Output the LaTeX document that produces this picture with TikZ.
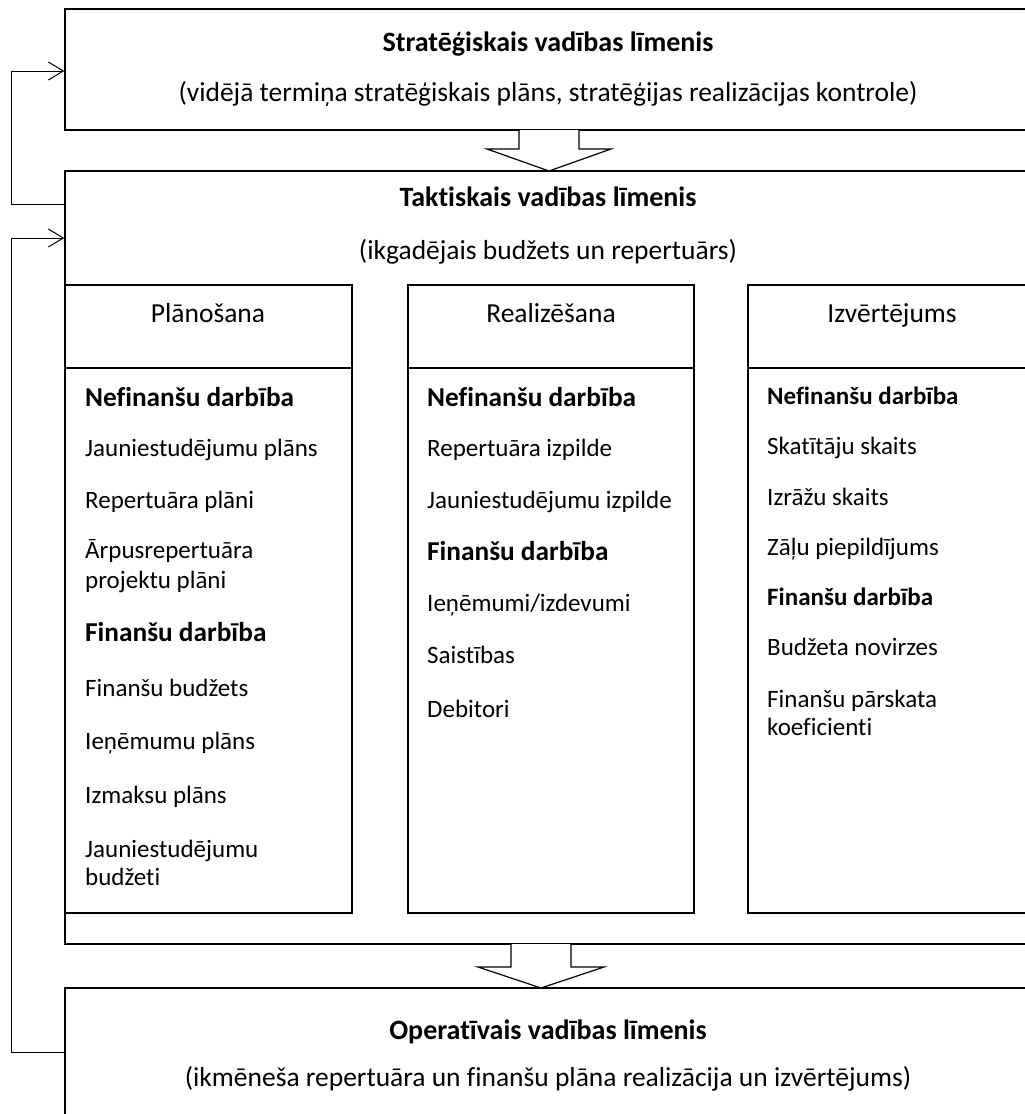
\documentclass[tikz,border=0pt]{standalone}
\usepackage{fontspec}
\setmainfont{Carlito}[Ligatures=NoCommon]
\usetikzlibrary{arrows.meta,fit}
\begin{document}
\begin{tikzpicture}[x=1pt,y=-1pt,
  box/.style={draw, line width=1.4pt, inner sep=0pt},
  fb/.style={line width=1pt},
  fbarrow/.style={fb, -{Straight Barb[length=15pt,width=18pt,line width=1pt]}},
  blk/.style={draw, fill=white, line width=1.2pt, line join=miter},
  t/.style={font=\fontsize{27.5}{33}\selectfont, inner sep=0pt, anchor=base},
  tb/.style={t, font=\fontsize{28}{33}\selectfont\bfseries},
  l/.style={font=\fontsize{25}{29}\selectfont, inner sep=0pt, anchor=base west},
  lb/.style={l, font=\fontsize{27.3}{29}\selectfont\bfseries},
  s/.style={font=\fontsize{25}{29}\selectfont, inner sep=0pt, anchor=base west},
  sb/.style={s, font=\fontsize{25}{29}\selectfont\bfseries}
]
\clip (0,0) rectangle (1025,1114);
\fill[white] (0,0) rectangle (1025,1114);

% boxes
\node[box, fit={(65,9)(1040,130)}] (strat) {};
\node[box, fit={(65,171)(1040,944)}] (tak) {};
\node[box, fit={(65,988)(1040,1140)}] (oper) {};
\node[box, fit={(65,285)(352,368)}] (h1) {};
\node[box, fit={(65,368)(352,913)}] (c1) {};
\node[box, fit={(408,285)(694,368)}] (h2) {};
\node[box, fit={(408,368)(694,913)}] (c2) {};
\node[box, fit={(748,285)(1040,368)}] (h3) {};
\node[box, fit={(748,368)(1040,913)}] (c3) {};

% block arrows
\draw[blk] (519,130) -- (519,149) -- (487,149) -- (549,171) -- (611,149) -- (579,149) -- (579,130);
\draw[blk] (511,944) -- (511,967) -- (478,967) -- (541,988) -- (604,967) -- (571,967) -- (571,944);

% feedback connectors
\coordinate (a1) at (11,204);
\coordinate (a2) at (11,71);
\coordinate (b1) at (11,1052);
\coordinate (b2) at (11,238);
\draw[fbarrow] (a1 -| tak.west) -- (a1) -- (a2) -- (a2 -| strat.west);
\draw[fbarrow] (b1 -| oper.west) -- (b1) -- (b2) -- (b2 -| tak.west);

% level titles
\node[tb] (st1) at (548,51) {Stratēģiskais vadības līmenis};
\node[t] (st2) at (548,101) {(vidējā termiņa stratēģiskais plāns, stratēģijas realizācijas kontrole)};
\node[tb] (tk1) at (548,206) {Taktiskais vadības līmenis};
\node[t] (tk2) at (548,259) {(ikgadējais budžets un repertuārs)};
\node[tb] (op1) at (548,1039) {Operatīvais vadības līmenis};
\node[t] (op2) at (548,1086) {(ikmēneša repertuāra un finanšu plāna realizācija un izvērtējums)};

% column headers
\node[t] (hh1) at (208,322) {Plānošana};
\node[t] (hh2) at (551,322) {Realizēšana};
\node[t] (hh3) at (892,322) {Izvērtējums};

% column 1
\node[lb] (p1) at (85,406) {Nefinanšu darbība};
\node[l] (p2) at (85,456) {Jauniestudējumu plāns};
\node[l] (p3) at (85,508) {Repertuāra plāni};
\node[l] (p4) at (85,558) {Ārpusrepertuāra};
\node[l] (p4b) at (85,588) {projektu plāni};
\node[lb] (p5) at (85,641) {Finanšu darbība};
\node[l] (p6) at (85,696) {Finanšu budžets};
\node[l] (p7) at (85,749) {Ieņēmumu plāns};
\node[l] (p8) at (85,803) {Izmaksu plāns};
\node[l] (p9) at (85,857) {Jauniestudējumu};
\node[l] (p9b) at (85,885) {budžeti};

% column 2
\node[lb] (r1) at (427,406) {Nefinanšu darbība};
\node[l] (r2) at (427,456) {Repertuāra izpilde};
\node[l] (r3) at (427,508) {Jauniestudējumu izpilde};
\node[lb] (r4) at (427,560) {Finanšu darbība};
\node[l] (r5) at (427,611) {Ieņēmumi/izdevumi};
\node[l] (r6) at (427,663) {Saistības};
\node[l] (r7) at (427,717) {Debitori};

% column 3
\node[sb] (z1) at (767,404) {Nefinanšu darbība};
\node[s] (z2) at (767,454) {Skatītāju skaits};
\node[s] (z3) at (767,505) {Izrāžu skaits};
\node[s] (z4) at (767,555) {Zāļu piepildījums};
\node[sb] (z5) at (767,605) {Finanšu darbība};
\node[s] (z6) at (767,655) {Budžeta novirzes};
\node[s] (z7) at (767,707) {Finanšu pārskata};
\node[s] (z7b) at (767,735) {koeficienti};
\end{tikzpicture}
\end{document}
